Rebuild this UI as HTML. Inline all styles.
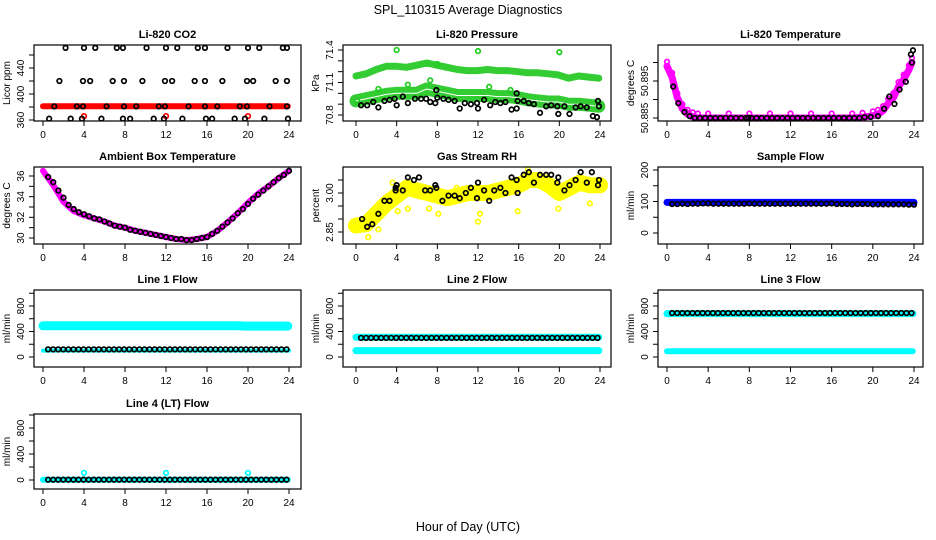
<!DOCTYPE html>
<html><head><meta charset="utf-8"><style>
html,body{margin:0;padding:0;background:#fff;}
svg{display:block;font-family:"Liberation Sans",sans-serif;}
</style></head><body>
<svg id="chart" width="936" height="540" viewBox="0 0 936 540" xmlns="http://www.w3.org/2000/svg">
<rect width="936" height="540" fill="#fff"/>
<text x="468" y="14" font-size="12.5" text-anchor="middle">SPL_110315  Average Diagnostics</text>
<text x="468" y="531" font-size="12.5" text-anchor="middle">Hour of Day (UTC)</text>
</svg>
<script>
// ---- data ----
const xTicks = [0,4,8,12,16,20,24];
const H = [0,1,2,3,4,5,6,7,8,9,10,11,12,13,14,15,16,17,18,19,20,21,22,23,24];
const T2 = [0.5,1,1.5,2,2.5,3,3.5,4,4.5,5,5.5,6,6.5,7,7.5,8,8.5,9,9.5,10,10.5,11,11.5,12,12.5,13,13.5,14,14.5,15,15.5,16,16.5,17,17.5,18,18.5,19,19.5,20,20.5,21,21.5,22,22.5,23,23.5,24];

// CO2
const co2Red = [381,381,381,381,381,381,381,381,381,381,381,381,381,381,381,381,381,381,381,381,381,381,381,381,381];
const co2RedOutT = [4,12,20];
const co2RedOutV = [366,366,366];
const co2BlackT = [2.2,4,5.1,7.2,7.8,10.1,12,13.1,15.1,15.8,18,20,21.1,23.4,23.8, 1.6,3.9,4.6,6.8,7.9,9.7,11.9,12.6,14.8,15.8,17.5,19.9,20.5,22.7,23.8, 1.1,3.3,3.9,6.2,7.9,9.1,11.3,11.9,14.2,15.8,17,19.2,19.9,22.1,23.8, 0.6,2.7,3.8,5.7,7.8,8.5,10.8,11.8,13.6,15.9,16.5,18.7,19.7,21.6,23.9];
const co2BlackV = [471,471,471,471,471,471,471,471,471,471,471,471,471,471,471, 420,420,420,420,420,420,420,420,420,420,420,420,420,420,420, 381,381,381,381,381,381,381,381,381,381,381,381,381,381,381, 362,362,362,362,362,362,362,362,362,362,362,362,362,362,362];

// Pressure
const presUpper = [71.16,71.18,71.22,71.25,71.25,71.24,71.26,71.28,71.26,71.24,71.22,71.21,71.21,71.22,71.21,71.21,71.2,71.19,71.19,71.18,71.17,71.14,71.16,71.15,71.14];
const presLower = [70.93,70.95,70.97,70.99,71.0,71.0,71.0,71.04,71.02,71.0,70.98,70.98,70.98,70.98,70.97,70.97,70.96,70.94,70.93,70.92,70.92,70.9,70.9,70.89,70.88];
const presGreenOutT = [4,12,20,7.3,8,2.2,5.1,13.1,15.2,0.1];
const presGreenOutV = [71.4,71.39,71.38,71.12,71.27,71.04,71.08,71.06,71.03,70.93];
const presBlackT = [0.5,1.1,1.7,2.2,2.8,3.3,3.8,4,4.6,5.1,5.8,6.4,6.9,7.3,7.8,7.9,8.0,8.6,9.1,9.7,10.2,10.7,11.3,11.9,12,12.6,13.2,13.7,14.2,14.7,15.3,15.8,15.8,15.9,16.5,17,17.5,18.1,18.7,19.2,19.8,19.9,20.5,21,21.6,22.1,22.7,23.3,23.7,23.8,23.9];
const presBlackV = [70.89,70.89,70.92,70.87,70.93,70.94,70.95,70.89,70.97,70.91,70.95,70.95,70.95,70.92,70.91,71.03,70.96,70.95,70.94,70.93,70.86,70.91,70.9,70.91,70.86,70.94,70.89,70.92,70.91,70.92,70.85,70.86,71.0,70.93,70.93,70.91,70.9,70.82,70.88,70.89,70.88,70.81,70.88,70.81,70.87,70.88,70.87,70.79,70.78,70.93,70.88];

// Li-820 Temperature
const tempMagT = [0,0.5,1,1.5,2,2.5,3,4,6,8,10,12,14,16,18,19,20,20.5,21,21.5,22,22.5,23,23.5,23.8];
const tempMagV = [50.899,50.896,50.8905,50.8875,50.886,50.8853,50.885,50.885,50.885,50.885,50.885,50.885,50.885,50.885,50.885,50.8852,50.8856,50.886,50.887,50.889,50.8905,50.8935,50.8955,50.898,50.9];
const tempBlackT = [0.6,1.1,1.7,2.2,2.7,3.2,3.7,4.2,4.7,5.2,5.7,6.2,6.7,7.2,7.7,7.9,8.2,8.7,9.2,9.7,10.2,10.7,11.2,11.7,12.2,12.7,13.2,13.7,14.2,14.7,15.2,15.7,16.2,16.7,17.2,17.7,18.2,18.7,19.2,19.8,20.5,21.1,21.6,22.1,22.6,23.2,23.7,23.8,23.9];
const tempBlackV = [50.8935,50.889,50.8866,50.8855,50.885,50.885,50.885,50.885,50.885,50.885,50.885,50.885,50.885,50.885,50.885,50.8851,50.885,50.885,50.885,50.885,50.885,50.885,50.885,50.885,50.885,50.885,50.885,50.885,50.885,50.885,50.885,50.885,50.885,50.885,50.885,50.885,50.885,50.885,50.8852,50.8853,50.8855,50.8875,50.8908,50.8888,50.8927,50.8948,50.9022,50.9,50.9033];

// Ambient Box Temperature
const ambMag = [36.5,35.1,33.5,32.6,32.2,31.9,31.6,31.2,31.0,30.7,30.5,30.3,30.1,29.9,29.8,29.9,30.1,30.7,31.5,32.4,33.4,34.3,35.0,35.8,36.5];
const ambBlack = [35.9,35.4,34.6,33.9,33.2,32.8,32.5,32.3,32.1,31.9,31.8,31.6,31.4,31.2,31.1,31.0,30.8,30.7,30.6,30.5,30.4,30.3,30.2,30.1,30.0,29.9,29.9,29.8,29.8,29.9,30.0,30.1,30.4,30.7,31.1,31.5,31.9,32.4,32.8,33.3,33.8,34.2,34.6,35.0,35.4,35.8,36.1,36.5];

// Gas Stream RH
const rhYellow = [2.875,2.88,2.92,2.96,2.99,3.02,3.01,3.0,2.99,2.98,2.99,3.0,3.0,3.0,3.01,3.02,3.03,3.05,3.05,3.03,3.0,3.02,3.04,3.03,3.03];
const rhYellowOutT = [1.2,2.2,4.1,5.1,7.2,8.1,12,12.2,15.9,19.9,23,3.6,9.9,16.9];
const rhYellowOutV = [2.83,2.86,2.93,2.94,2.94,2.92,2.89,2.92,2.93,2.94,2.96,3.04,3.02,3.09];
const rhBlackT = [0.6,1.1,1.6,2.2,2.8,3.3,3.9,3.9,4,4.6,5.1,5.7,6.2,6.8,7.3,7.8,7.9,8.5,9.1,9.7,10.2,10.8,11.3,11.9,12,12.6,13.1,13.6,14.2,14.7,15.3,15.8,15.9,16.5,17,17.5,18.1,18.7,19.2,19.8,19.9,20.5,21,21.6,22.1,22.7,23.2,23.7,23.8,23.9];
const rhBlackV = [2.9,2.87,2.88,2.92,2.97,2.97,3.01,3.02,3.03,3.01,3.06,3.05,3.06,3.01,3.01,3.03,3.02,2.97,2.99,2.99,2.98,3.0,3.02,2.98,3.04,3.01,2.97,3.01,3.02,3.0,3.06,3.05,3.0,3.07,3.08,3.04,3.07,3.07,3.07,3.04,3.06,3.01,3.03,3.05,3.08,3.04,3.08,3.11,3.03,3.05];

// Sample Flow
const sampleBlue = [97,97,97,97,97,97,97,97,97,97,97,97,97,97,97,97,97,97,97,97,97,97,97,97,97];
const sampleBlack = [92,92,93,92,93,93,94,94,93,93,93,93,93,93,93,94,93,93,93,93,93,93,93,93,93,93,93,93,93,93,93,94,92,92,92,91,92,92,92,91,91,91,91,91,91,91,90,90];

// Line flows
const l1CyanHi = [490,490,490,490,490,490,490,490,490,490,490,490,490,490,490,490,490,490,490,490,485,485,485,485,485];
const l1CyanLo = [100,100,100,100,100,100,100,100,100,100,100,100,100,100,100,100,100,100,100,100,100,100,100,100,100];
const l1Black = [120,120,120,120,120,120,120,120,120,120,120,120,120,120,120,120,120,120,120,120,120,120,120,120,120,120,120,120,120,120,120,120,120,120,120,120,120,120,120,120,120,120,120,120,120,120,120,120];
const l2CyanHi = [310,310,310,310,310,310,310,310,310,310,310,310,310,310,310,310,310,310,310,310,310,310,310,310,310];
const l2CyanLo = [100,100,100,100,100,100,100,100,100,100,100,100,100,100,100,100,100,100,100,100,100,100,100,100,100];
const l2Black = [300,300,300,300,300,300,300,300,300,300,300,300,300,300,300,300,300,300,300,300,300,300,300,300,300,300,300,300,300,300,300,300,300,300,300,300,300,300,300,300,300,300,300,300,300,300,300,300];
const l3CyanHi = [680,680,680,680,680,680,680,680,680,680,680,680,680,680,680,680,680,680,680,680,680,680,680,680,680];
const l3CyanLo = [90,90,90,90,90,90,90,90,90,90,90,90,90,90,90,90,90,90,90,90,90,90,90,90,90];
const l3Black = [690,690,690,690,690,690,690,690,690,690,690,690,690,690,690,690,690,690,690,690,690,690,690,690,690,690,690,690,690,690,690,690,690,690,690,690,690,690,690,690,690,690,690,690,690,690,690,690];
const l4Cyan = [5,5,5,5,5,5,5,5,5,5,5,5,5,5,5,5,5,5,5,5,5,5,5,5,5];
const l4CyanOutT = [4,12,20];
const l4CyanOutV = [110,110,110];
const l4Black = [5,5,5,5,5,5,5,5,5,5,5,5,5,5,5,5,5,5,5,5,5,5,5,5,5,5,5,5,5,5,5,5,5,5,5,5,5,5,5,5,5,5,5,5,5,5,5,5];

const flowTicks = [0,200,400,600,800,1000];
const flowLabels = [0,400,800];

// ---- drawing ----
const svg = document.getElementById('chart');
const NS = 'http://www.w3.org/2000/svg';
function mk(tag, attrs, parent){
  const e = document.createElementNS(NS, tag);
  for (const k in attrs) e.setAttribute(k, attrs[k]);
  (parent||svg).appendChild(e);
  return e;
}
const cols = [{l:34,r:301,x0:43,x24:289},{l:343,r:611,x0:356,x24:600},{l:658,r:923,x0:667,x24:914}];
const rows = [{t:45,b:121},{t:167,b:244},{t:290,b:367},{t:414,b:489}];

function panel(name, title, ci, ri, ylab, yv0, yp0, yv1, yp1, yticks, ylabels, fmt){
  const c = cols[ci], r = rows[ri];
  const g = mk('g', {});
  
  
  const xs = h => c.x0 + (h/24)*(c.x24 - c.x0);
  const ys = v => yp0 + (v - yv0)*(yp1 - yp0)/(yv1 - yv0);
  const clip = mk('clipPath', {id:'clip-'+name}, g);
  mk('rect', {x:c.l, y:r.t, width:c.r-c.l, height:r.b-r.t}, clip);
  const plot = mk('g', {'clip-path':'url(#clip-'+name+')'}, g);
  
  
  const box = mk('rect', {x:c.l, y:r.t, width:c.r-c.l, height:r.b-r.t, fill:'none', stroke:'#000', 'stroke-width':1.2}, g);
  
  
  const tt = mk('text', {x:(c.l+c.r)/2, y:r.t-7, 'font-size':11, 'font-weight':'bold', 'text-anchor':'middle'}, g);
  tt.textContent = title;
  
  
  mk('line', {x1:c.x0, x2:c.x24, y1:r.b, y2:r.b, stroke:'#000'}, g);
  xTicks.forEach(h => {
    const tk = mk('line', {x1:xs(h), x2:xs(h), y1:r.b, y2:r.b+5, stroke:'#000'}, g);
    
    
    const tl = mk('text', {x:xs(h), y:r.b+17, 'font-size':10, 'text-anchor':'middle'}, g);
    tl.textContent = h;
    
    
  });
  yticks.forEach(v => {
    const tk = mk('line', {x1:c.l-5, x2:c.l, y1:ys(v), y2:ys(v), stroke:'#000'}, g);
    
    
  });
  mk('line', {x1:c.l, x2:c.l, y1:ys(yticks[0]), y2:ys(yticks[yticks.length-1]), stroke:'#000'}, g);
  ylabels.forEach(v => {
    const y = ys(v), x = c.l-10;
    const tl = mk('text', {x:x, y:y, 'font-size':10, 'text-anchor':'middle', transform:'rotate(-90 '+x+' '+y+')'}, g);
    tl.textContent = fmt ? fmt(v) : v;
    
    
  });
  const yx = c.l-24, yy = (r.t+r.b)/2;
  const yl = mk('text', {x:yx, y:yy, 'font-size':10, 'text-anchor':'middle', transform:'rotate(-90 '+yx+' '+yy+')'}, g);
  yl.textContent = ylab;
  
  
  return {xs, ys, plot};
}
function band(p, ts, vs, color, w, nm){
  const pts = ts.map((t,i) => p.xs(t).toFixed(1)+','+p.ys(vs[i]).toFixed(1)).join(' ');
  const pl = mk('polyline', {points:pts, fill:'none', stroke:color, 'stroke-width':w, 'stroke-linejoin':'round', 'stroke-linecap':'round'}, p.plot);
  
  
}
function pts(p, ts, vs, color, nm){
  ts.forEach((t,i) => {
    const c = mk('circle', {cx:p.xs(t), cy:p.ys(vs[i]), r:2.3, fill:'none', stroke:color, 'stroke-width':1.7}, p.plot);
    
    
  });
}

let p = panel('co2-panel','Li-820 CO2',0,0,'Licor ppm',360,120,440,68,[360,380,400,420,440,460],[360,400,440]);
band(p, H.map(h=>h*0.995), co2Red, '#ff0000', 6, 'co2-red-band');
pts(p, co2RedOutT, co2RedOutV, '#ff0000', 'co2-red-point');
pts(p, co2BlackT, co2BlackV, '#000', 'co2-black-point');

p = panel('pressure-panel','Li-820 Pressure',1,0,'kPa',70.8,115,71.4,50,[70.8,70.9,71.0,71.1,71.2,71.3,71.4],[70.8,71.1,71.4],v=>v.toFixed(1));
band(p, H.map(h=>h*0.995), presUpper, '#33cc33', 7, 'pressure-upper-band');
band(p, H.map(h=>h*0.995), presLower, '#33cc33', 13, 'pressure-lower-band');
band(p, H.map(h=>h*0.995), presLower, '#ffffff', 1, 'pressure-mean-line');
pts(p, presGreenOutT, presGreenOutV, '#22cc22', 'pressure-green-point');
pts(p, presBlackT, presBlackV, '#000', 'pressure-black-point');

p = panel('li820-temp-panel','Li-820 Temperature',2,0,'degrees C',50.885,118,50.895,81,[50.885,50.89,50.895,50.9],[50.885,50.895],v=>v.toFixed(3));
band(p, tempMagT, tempMagV, '#ff00ff', 7, 'li820-temp-magenta-band');
pts(p, tempMagT, tempMagV.map(v=>v+0.0012), '#ff00ff', 'li820-temp-magenta-point');
pts(p, tempBlackT, tempBlackV, '#000', 'li820-temp-black-point');

p = panel('ambient-temp-panel','Ambient Box Temperature',0,1,'degrees C',30,238,36,176,[30,31,32,33,34,35,36],[30,32,34,36]);
band(p, H, ambMag, '#ff00ff', 6, 'ambient-magenta-band');
pts(p, T2, ambBlack, '#000', 'ambient-black-point');

p = panel('rh-panel','Gas Stream RH',1,1,'percent',2.85,232,3.0,193,[2.85,2.9,2.95,3.0,3.05],[2.85,3.0],v=>v.toFixed(2));
band(p, H, rhYellow, '#ffff00', 16, 'rh-yellow-band');
pts(p, rhYellowOutT, rhYellowOutV, '#ffff00', 'rh-yellow-point');
pts(p, rhBlackT, rhBlackV, '#000', 'rh-black-point');

p = panel('sample-flow-panel','Sample Flow',2,1,'ml/min',0,233,200,170,[0,50,100,150,200],[0,100,200]);
band(p, H, sampleBlue, '#0000ff', 7, 'sample-blue-band');
pts(p, T2, sampleBlack, '#000', 'sample-black-point');

p = panel('line1-flow-panel','Line 1 Flow',0,2,'ml/min',0,357,800,306,flowTicks,flowLabels);
band(p, H.map(h=>h*0.995), l1CyanHi, '#00ffff', 9, 'line1-cyan-high-band');
band(p, H, l1CyanLo, '#00ffff', 4, 'line1-cyan-low-band');
pts(p, T2.map(t=>t*0.99), l1Black, '#000', 'line1-black-point');

p = panel('line2-flow-panel','Line 2 Flow',1,2,'ml/min',0,357,800,306,flowTicks,flowLabels);
band(p, H.map(h=>h*0.995), l2CyanHi, '#00ffff', 7, 'line2-cyan-high-band');
band(p, H.map(h=>h*0.995), l2CyanLo, '#00ffff', 7, 'line2-cyan-low-band');
pts(p, T2.map(t=>t*0.99), l2Black, '#000', 'line2-black-point');

p = panel('line3-flow-panel','Line 3 Flow',2,2,'ml/min',0,357,800,306,flowTicks,flowLabels);
band(p, H.map(h=>h*0.995), l3CyanHi, '#00ffff', 7, 'line3-cyan-high-band');
band(p, H.map(h=>h*0.995), l3CyanLo, '#00ffff', 6, 'line3-cyan-low-band');
pts(p, T2.map(t=>t*0.99), l3Black, '#000', 'line3-black-point');

p = panel('line4-flow-panel','Line 4 (LT) Flow',0,3,'ml/min',0,480,800,428,flowTicks,flowLabels);
band(p, H.map(h=>h*0.995), l4Cyan, '#00ffff', 6, 'line4-cyan-band');
pts(p, l4CyanOutT, l4CyanOutV, '#00ffff', 'line4-cyan-point');
pts(p, T2.map(t=>t*0.99), l4Black, '#000', 'line4-black-point');
</script>
</body></html>
